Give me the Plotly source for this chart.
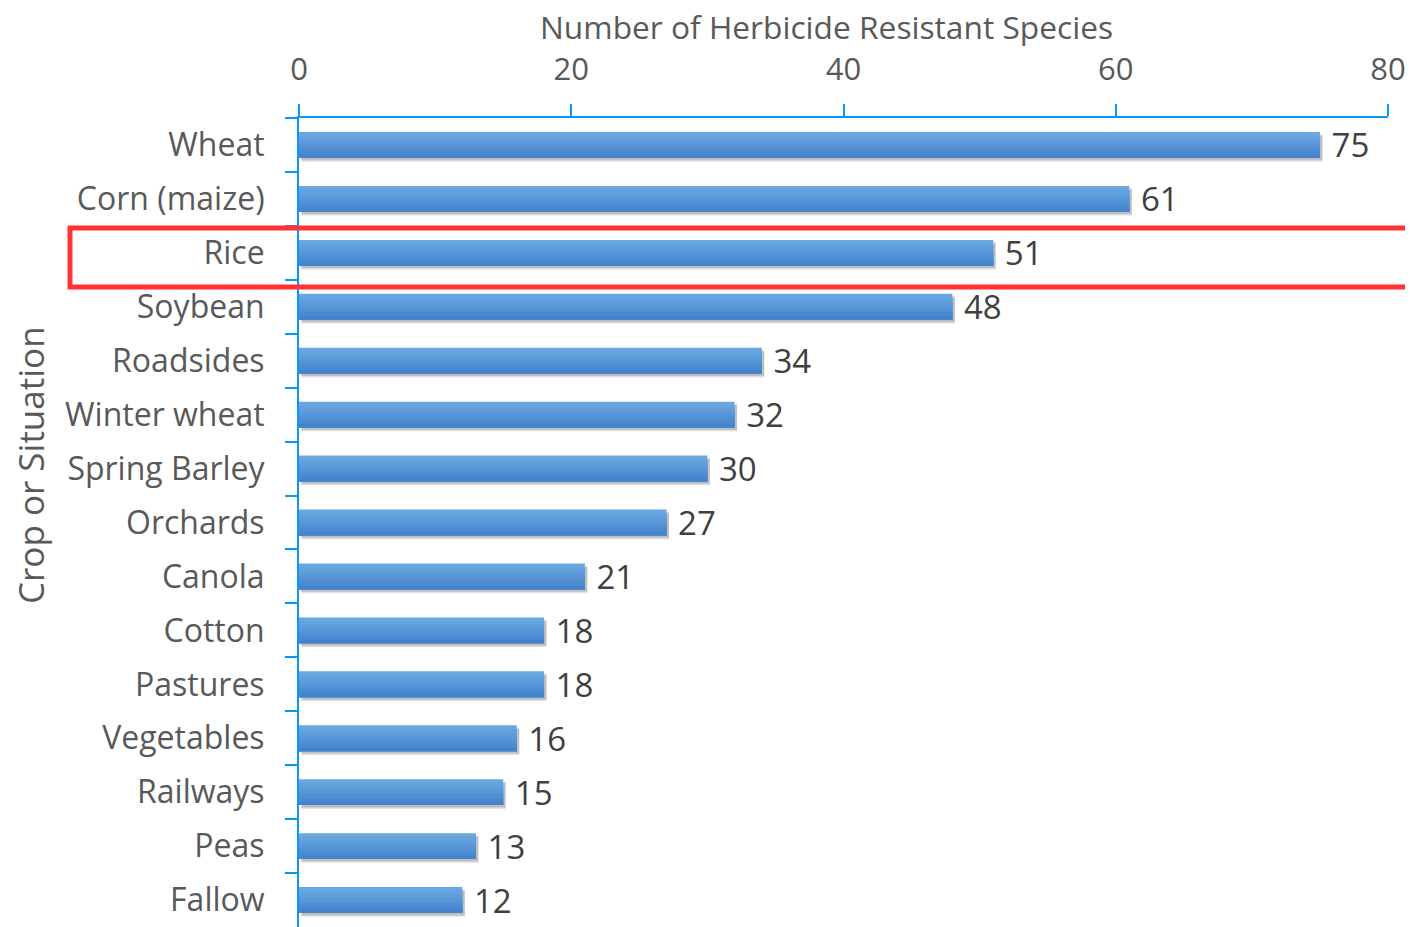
import plotly.graph_objects as go

crops = ["Wheat", "Corn (maize)", "Rice", "Soybean", "Roadsides", "Winter wheat",
         "Spring Barley", "Orchards", "Canola", "Cotton", "Pastures", "Vegetables",
         "Railways", "Peas", "Fallow"]
species = [75, 61, 51, 48, 34, 32, 30, 27, 21, 18, 18, 16, 15, 13, 12]
x_ticks = [0, 20, 40, 60, 80]

FONT = "Open Sans"
AXIS_BLUE = "#0a98f5"
BAR_W = 0.48
# light (top) to dark (bottom) to fake the gradient fill
shades = ["#6aa7e1", "#64a2de", "#5e9cdb", "#5896d8", "#5290d4", "#4b8ad0", "#4584cc"]

# the page body has an 8px margin, so the figure is drawn 8px smaller
W, H = 1405, 919
PL, PR, PT = 291, 1380, 110   # plot area in figure pixels


def px(xr):  # reference pixel -> paper x
    return (xr - 8 - PL) / (PR - PL)


def py(yr):  # reference pixel -> paper y
    return (H - (yr - 8)) / (H - PT)


fig = go.Figure()

# soft shadow under bars
for off, alpha in [(0.07, 0.16), (0.045, 0.2)]:
    fig.add_trace(go.Bar(
        y=crops, x=species, orientation="h", base=0.18,
        marker=dict(color=f"rgba(60,60,60,{alpha})", line_width=0),
        width=BAR_W, offset=-BAR_W / 2 + off, hoverinfo="skip", showlegend=False,
    ))

# each band runs to the bar bottom, the next one paints over it
n = len(shades)
for i, c in enumerate(shades):
    fig.add_trace(go.Bar(
        y=crops, x=species, orientation="h",
        marker=dict(color=c, line_width=0),
        width=BAR_W - i * BAR_W / n, offset=-BAR_W / 2 + i * BAR_W / n,
        hoverinfo="skip", showlegend=False,
    ))

# value labels
fig.add_trace(go.Bar(
    y=crops, x=species, orientation="h",
    marker=dict(color="rgba(0,0,0,0)", line_width=0),
    width=BAR_W, offset=-BAR_W / 2,
    text=species, texttemplate=" %{x}", textposition="outside",
    constraintext="none", cliponaxis=False,
    textfont=dict(family=FONT, size=33, color="#404040"),
    showlegend=False,
))

fig.update_layout(
    width=W, height=H,
    margin=dict(l=PL, r=W - PR, t=PT, b=0),
    plot_bgcolor="white", paper_bgcolor="white",
    barmode="overlay",
    font=dict(family=FONT, color="#595959"),
)

fig.update_xaxes(
    side="top", range=[0, 80], tickvals=x_ticks, automargin=False,
    showgrid=False, zeroline=False,
    showline=True, linecolor=AXIS_BLUE, linewidth=2,
    ticks="outside", tickcolor=AXIS_BLUE, ticklen=12, tickwidth=2,
    ticklabelstandoff=12,
    tickfont=dict(family=FONT, size=31, color="#595959"),
)
fig.update_yaxes(
    autorange="reversed", showgrid=False, automargin=False,
    showline=True, linecolor=AXIS_BLUE, linewidth=2,
    ticks="outside", tickson="boundaries", tickcolor=AXIS_BLUE, ticklen=12, tickwidth=2,
    ticklabelstandoff=26,
    tickfont=dict(family=FONT, size=32, color="#595959"),
)

fig.add_annotation(
    text="Number of Herbicide Resistant Species", xref="paper", yref="paper",
    x=px(826), y=py(26), xanchor="center", yanchor="middle", showarrow=False,
    font=dict(family=FONT, size=31.7, color="#595959"),
)
fig.add_annotation(
    text="Crop or Situation", xref="paper", yref="paper", textangle=-90,
    x=px(30), y=py(465), xanchor="center", yanchor="middle", showarrow=False,
    font=dict(family=FONT, size=35, color="#595959"),
)

# red highlight box around Rice
fig.add_shape(
    type="rect", xref="paper", yref="paper",
    x0=px(70), x1=px(1440), y0=py(287), y1=py(228),
    line=dict(color="#ff3333", width=5), fillcolor="rgba(0,0,0,0)",
)

fig.write_html("out.html")
